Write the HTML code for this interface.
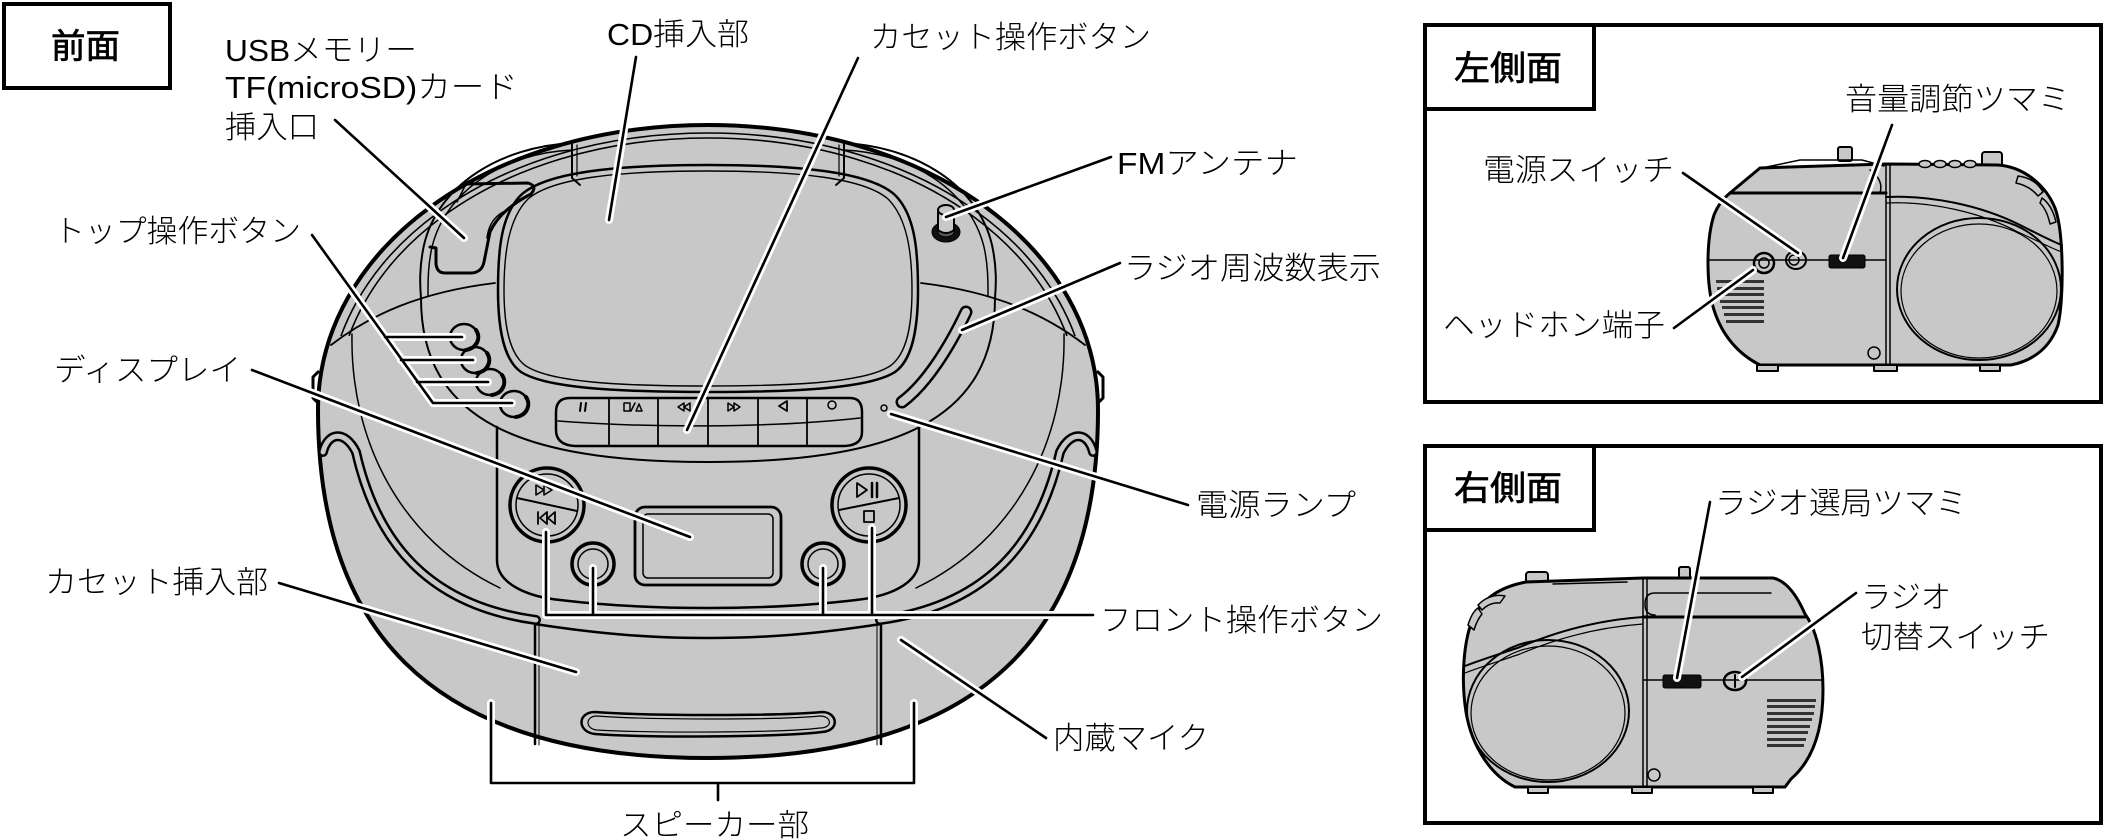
<!DOCTYPE html>
<html><head><meta charset="utf-8"><style>
html,body{margin:0;padding:0;background:#fff;}
svg{display:block;}
text{font-family:"Liberation Sans","Noto Sans CJK JP",sans-serif;font-size:31px;font-weight:300;fill:#000;}
.h{font-size:34px;font-weight:400;stroke:#000;stroke-width:0.7px;}
</style></head><body>
<svg xmlns="http://www.w3.org/2000/svg" width="2105" height="840" viewBox="0 0 2105 840">
<defs>
<clipPath id="ct"><rect x="0" y="0" width="2105" height="336"/></clipPath>
</defs>
<rect width="2105" height="840" fill="#fff"/>

<!-- label boxes -->
<rect x="4" y="4" width="166" height="84" fill="none" stroke="#000" stroke-width="4"/>
<rect x="1425" y="25" width="676" height="377" fill="none" stroke="#000" stroke-width="4"/>
<rect x="1425" y="25" width="169" height="84" fill="none" stroke="#000" stroke-width="4"/>
<rect x="1425" y="446" width="676" height="377" fill="none" stroke="#000" stroke-width="4"/>
<rect x="1425" y="446" width="169" height="84" fill="none" stroke="#000" stroke-width="4"/>

<!-- ========== FRONT VIEW ========== -->
<g fill="none" stroke="#000" stroke-linecap="round" stroke-linejoin="round">
<path d="M708,125 C930,125 1098,250 1098,410 C1098,620 996,758 708,758 C420,758 318,620 318,410 C318,250 486,125 708,125 Z" fill="#c8c8c8" stroke-width="4"/>
<path d="M318,372 L313,377 L313,398 L318,403" stroke-width="3"/>
<path d="M1098,372 L1103,377 L1103,398 L1098,403" stroke-width="3"/>
<g clip-path="url(#ct)">
<path d="M328,410 C328,255 492,133 708,133 C924,133 1088,255 1088,410" stroke-width="1.6"/>
<path d="M336,410 C336,257 496,138 708,138 C920,138 1080,257 1080,410" stroke-width="1.6"/>
</g>
<!-- transition lines -->
<path d="M331,345 C370,315 420,292 495,283" stroke-width="1.8"/>
<path d="M1085,345 C1046,315 996,292 921,283" stroke-width="1.8"/>
<!-- deck outline -->
<path d="M572,143 C500,147 438,185 424,245 C419,268 420,285 421,298 C421,420 520,462 708,462 C896,462 995,420 995,298 C996,285 997,268 992,245 C978,185 916,147 844,143" stroke-width="2"/>
<path d="M572,150 C505,153 446,190 432,247 C428,265 428,280 428,296" stroke-width="1.5"/>
<path d="M844,150 C911,153 970,190 984,247 C988,265 988,280 988,296" stroke-width="1.5"/>
<!-- hinge lines -->
<path d="M572,143 L572,178 L580,185" stroke-width="2"/>
<path d="M577,145 L577,176" stroke-width="1.2"/>
<path d="M844,143 L844,178 L836,185" stroke-width="2"/>
<path d="M839,145 L839,176" stroke-width="1.2"/>
<!-- CD lid -->
<path d="M708,165 C800,165 870,172 895,195 C915,215 918,250 918,290 C918,330 912,360 895,372 C870,388 800,392 708,392 C616,392 546,388 521,372 C504,360 498,330 498,290 C498,250 501,215 521,195 C546,172 616,165 708,165 Z" stroke-width="2.5"/>
<path d="M708,171 C798,171 864,178 888,199 C907,218 912,252 912,290 C912,328 906,355 890,366 C866,382 798,386 708,386 C618,386 550,382 526,366 C510,355 504,328 504,290 C504,252 509,218 528,199 C552,178 618,171 708,171 Z" stroke-width="1.4"/>
<!-- USB recess -->
<path d="M466,184 L528,183 Q538,186 531,194 Q500,210 490,232 L484,262 Q482,272 472,273 L445,273 Q437,273 436,264 L436,248 L430,247" stroke-width="3"/>
<path d="M466,184 L457,202" stroke-width="1.5"/>
<path d="M503,212 Q489,220 487,238" stroke-width="1.5"/>
<!-- antenna -->
<ellipse cx="946" cy="232" rx="14" ry="10" fill="#111" stroke-width="1"/>
<ellipse cx="946" cy="232" rx="8" ry="5" fill="#555" stroke-width="1"/>
<path d="M938,210 L938,230 Q946,236 954,230 L954,210" fill="#c8c8c8" stroke-width="2"/>
<ellipse cx="946" cy="210" rx="8" ry="5" fill="#c8c8c8" stroke-width="2"/>
<!-- freq slot -->
<path d="M966,312 C948,350 925,385 902,402" stroke-width="13"/>
<path d="M966,312 C948,350 925,385 902,402" stroke="#c8c8c8" stroke-width="8"/>
<!-- face boundary thin lines -->
<path d="M352,334 C350,440 400,540 500,588" stroke-width="1.5"/>
<path d="M1064,334 C1066,440 1016,540 916,588" stroke-width="1.5"/>
<!-- speaker grooves -->
<path d="M323,452 C328,432 345,430 356,452 C376,540 426,605 536,620" stroke-width="10"/>
<path d="M323,452 C328,432 345,430 356,452 C376,540 426,605 536,620" stroke="#c8c8c8" stroke-width="5"/>
<path d="M1093,452 C1088,432 1071,430 1060,452 C1040,540 990,605 880,620" stroke-width="10"/>
<path d="M1093,452 C1088,432 1071,430 1060,452 C1040,540 990,605 880,620" stroke="#c8c8c8" stroke-width="5"/>
<!-- top buttons -->
<g stroke-width="2.5" fill="#c8c8c8">
<ellipse cx="464" cy="337" rx="14" ry="13"/>
<ellipse cx="475" cy="360" rx="14" ry="13"/>
<ellipse cx="490" cy="382" rx="14" ry="13"/>
<ellipse cx="514" cy="404" rx="14" ry="13"/>
</g>
<path d="M476,330 A14,13 0 0 1 466,350" stroke-width="4"/>
<path d="M487,353 A14,13 0 0 1 477,373" stroke-width="4"/>
<path d="M502,375 A14,13 0 0 1 492,395" stroke-width="4"/>
<path d="M526,397 A14,13 0 0 1 516,417" stroke-width="4"/>
<!-- cassette bar -->
<path d="M570,398 L850,398 Q862,398 862,412 L862,432 Q862,445 845,446 L575,446 Q556,445 556,430 L556,412 Q556,398 570,398 Z" fill="#c8c8c8" stroke-width="2.5"/>
<path d="M558,421 C650,428 770,428 860,418" stroke-width="1.5"/>
<path d="M609,399 L609,446 M658,399 L658,446 M708,399 L708,446 M758,399 L758,446 M807,399 L807,446" stroke-width="1.8"/>
<path d="M581,403 L580,411 M586,403 L585,411" stroke-width="2"/>
<rect x="624" y="403" width="6" height="8" stroke-width="1.5"/>
<path d="M631,411 L635,403 M636,411 L639,404 L642,411 Z" stroke-width="1.5"/>
<path d="M684,403 L678,407 L684,411 Z M690,403 L684,407 L690,411 Z" stroke-width="1.5"/>
<path d="M728,403 L734,407 L728,411 Z M734,403 L740,407 L734,411 Z" stroke-width="1.5"/>
<path d="M787,401 L779,406 L787,411 Z" stroke-width="1.8"/>
<circle cx="832" cy="405" r="4" stroke-width="1.5"/>
<!-- power lamp -->
<circle cx="884" cy="408" r="3" stroke-width="1.5"/>
<!-- front panel -->
<path d="M497,427 L497,560 C497,585 530,597 560,600 C610,606 660,608 708,608 C756,608 806,606 856,600 C886,597 919,585 919,560 L919,427" stroke-width="2.5"/>
<!-- door -->
<path d="M535,624 C600,634 650,638 708,638 C766,638 816,634 881,624" stroke-width="2.5"/>
<path d="M535,624 L535,744 M881,624 L881,744" stroke-width="2.5"/>
<path d="M539,626 L539,745 M877,626 L877,745" stroke-width="1"/>
<path d="M595,712 C650,716 780,716 822,712 C838,712 840,731 822,732 C780,737 650,738 595,734 C577,732 577,712 595,712 Z" stroke-width="2.5"/>
<path d="M597,716 C650,720 780,720 820,716 C832,716 833,728 820,728 C780,733 650,733 597,730 C585,729 585,716 597,716 Z" stroke-width="1.2"/>
<!-- jog left -->
<circle cx="547" cy="505" r="37" fill="#c8c8c8" stroke-width="3.5"/>
<circle cx="547" cy="505" r="31" stroke-width="1.5"/>
<path d="M517,498 L577,511" stroke-width="2"/>
<path d="M536,485 L544,490 L536,495 Z M544,485 L552,490 L544,495 Z" stroke-width="1.6"/>
<path d="M538,512 L538,524 M547,512 L540,518 L547,524 Z M555,512 L548,518 L555,524 Z" stroke-width="1.8"/>
<!-- play button -->
<circle cx="869" cy="505" r="37" fill="#c8c8c8" stroke-width="3.5"/>
<circle cx="869" cy="505" r="31" stroke-width="1.5"/>
<path d="M839,510 L899,498" stroke-width="2"/>
<path d="M857,483 L867,490 L857,497 Z" stroke-width="1.8"/>
<path d="M872,483 L872,497 M877,483 L877,497" stroke-width="2.5"/>
<rect x="864" y="511" width="10" height="11" stroke-width="1.8"/>
<!-- small round buttons -->
<circle cx="593" cy="564" r="21" fill="#c8c8c8" stroke-width="3.5"/>
<circle cx="593" cy="564" r="15" stroke-width="1.5"/>
<circle cx="823" cy="564" r="21" fill="#c8c8c8" stroke-width="3.5"/>
<circle cx="823" cy="564" r="15" stroke-width="1.5"/>
<!-- display -->
<rect x="635" y="507" width="146" height="78" rx="10" fill="#c8c8c8" stroke-width="2.8"/>
<rect x="643" y="514" width="130" height="64" rx="5" stroke-width="1.5"/>
</g>

<!-- front leader lines -->
<g fill="none" stroke-linecap="round" stroke-linejoin="round">
<g stroke="#fff" stroke-width="8">
<path d="M335,120 L464,238"/>
<path d="M636,57 L609,220"/>
<path d="M858,58 L687,430"/>
<path d="M1111,157 L946,217"/>
<path d="M1120,263 L962,330"/>
<path d="M312,235 L433,403 L512,403 M385,337 L462,337 M401,360 L473,360 M417,382 L488,382"/>
<path d="M252,370 L690,537"/>
<path d="M279,583 L576,672"/>
<path d="M891,414 L1188,505"/>
<path d="M546,532 L546,615 L1093,615 M593,568 L593,615 M823,568 L823,615 M872,528 L872,615"/>
<path d="M901,640 L1046,738"/>
<path d="M491,703 L491,783 L914,783 L914,703 M718,783 L718,800"/>
</g>
<g stroke="#000" stroke-width="2.6">
<path d="M335,120 L464,238"/>
<path d="M636,57 L609,220"/>
<path d="M858,58 L687,430"/>
<path d="M1111,157 L946,217"/>
<path d="M1120,263 L962,330"/>
<path d="M312,235 L433,403 L512,403 M385,337 L462,337 M401,360 L473,360 M417,382 L488,382"/>
<path d="M252,370 L690,537"/>
<path d="M279,583 L576,672"/>
<path d="M891,414 L1188,505"/>
<path d="M546,532 L546,615 L1093,615 M593,568 L593,615 M823,568 L823,615 M872,528 L872,615"/>
<path d="M901,640 L1046,738"/>
<path d="M491,703 L491,783 L914,783 L914,703 M718,783 L718,800"/>
</g>
</g>

<!-- ========== LEFT SIDE VIEW ========== -->
<g fill="none" stroke="#000" stroke-linecap="round" stroke-linejoin="round">
<rect x="1838" y="147" width="14" height="14" rx="2" fill="#c8c8c8" stroke-width="2"/>
<rect x="1982" y="152" width="20" height="16" rx="3" fill="#c8c8c8" stroke-width="2"/>
<path d="M1730,193 L1760,168 L1886,164 L1998,165 C2025,167 2046,186 2055,208 C2064,232 2064,300 2058,325 C2051,345 2036,360 2011,365 L1760,365 C1738,354 1722,335 1714,310 C1706,285 1706,240 1714,215 C1718,205 1723,199 1730,193 Z" fill="#c8c8c8" stroke-width="3"/>
<path d="M1730,193 L1886,193" stroke-width="3"/>
<path d="M1762,168 L1800,160 L1862,160 L1884,166" stroke-width="1.5"/>
<path d="M1886,164 L1886,365 M1890,165 L1890,365" stroke-width="1.5"/>
<path d="M1870,170 Q1884,180 1880,193" stroke-width="1.5"/>
<path d="M1710,260 L1886,260" stroke-width="1.5"/>
<path d="M1886,197 C1930,195 1980,205 2020,225 C2040,235 2055,243 2062,245" stroke-width="2"/>
<path d="M1886,203 C1930,201 1980,212 2018,232 C2040,242 2055,250 2062,252" stroke-width="1.2"/>
<ellipse cx="1979" cy="289" rx="82" ry="71" stroke-width="2"/>
<ellipse cx="1979" cy="291" rx="78" ry="67" stroke-width="1.2"/>
<path d="M2018,176 Q2035,178 2043,192 L2038,196 Q2030,186 2016,183 Z" fill="#c8c8c8" stroke-width="1.5"/>
<path d="M2042,198 Q2052,205 2056,222 L2050,224 Q2047,210 2040,203 Z" fill="#c8c8c8" stroke-width="1.5"/>
<g stroke-width="1.5" fill="#c8c8c8">
<ellipse cx="1925" cy="164" rx="6" ry="3.5"/><ellipse cx="1940" cy="164" rx="6" ry="3.5"/>
<ellipse cx="1955" cy="164" rx="6" ry="3.5"/><ellipse cx="1970" cy="164" rx="6" ry="3.5"/>
</g>
<circle cx="1764" cy="263" r="10" stroke-width="2.5"/>
<circle cx="1764" cy="263" r="5" stroke-width="1.5"/>
<ellipse cx="1796" cy="260" rx="10" ry="9" stroke-width="2"/>
<circle cx="1794" cy="260" r="5" stroke-width="1.5"/>
<rect x="1829" y="255" width="36" height="13" rx="2" fill="#111" stroke-width="1"/>
<circle cx="1874" cy="353" r="6" stroke-width="1.5"/>
<g fill="#c8c8c8" stroke-width="2">
<rect x="1757" y="365" width="21" height="6"/><rect x="1874" y="365" width="23" height="6"/><rect x="1980" y="365" width="20" height="6"/>
</g>
</g>
<g fill="#333">
<rect x="1716" y="280" width="48" height="3"/><rect x="1717" y="287" width="47" height="3"/>
<rect x="1718" y="293" width="46" height="3"/><rect x="1720" y="300" width="44" height="3"/>
<rect x="1722" y="306" width="42" height="3"/><rect x="1724" y="313" width="40" height="3"/>
<rect x="1726" y="320" width="38" height="3"/>
</g>

<!-- ========== RIGHT SIDE VIEW ========== -->
<g fill="none" stroke="#000" stroke-linecap="round" stroke-linejoin="round">
<rect x="1679" y="567" width="11" height="16" rx="2" fill="#c8c8c8" stroke-width="2"/>
<rect x="1526" y="572" width="22" height="15" rx="3" fill="#c8c8c8" stroke-width="2"/>
<path d="M1526,582 L1643,578 L1773,578 C1788,581 1798,598 1805,614 C1817,630 1823,660 1823,690 C1823,730 1813,760 1791,779 L1785,787 L1515,787 C1492,776 1472,748 1466,712 C1461,680 1463,640 1474,616 C1484,598 1500,587 1526,582 Z" fill="#c8c8c8" stroke-width="3"/>
<path d="M1553,584 L1627,582" stroke-width="1.5"/>
<path d="M1643,578 L1643,787 M1647,579 L1647,787" stroke-width="1.5"/>
<path d="M1655,593 L1771,593 M1655,593 Q1645,593 1645,604 Q1645,615 1655,615" stroke-width="1.5"/>
<path d="M1643,617 L1805,617" stroke-width="3"/>
<path d="M1643,680 L1823,680" stroke-width="1.5"/>
<path d="M1465,666 C1480,660 1500,654 1520,647 C1560,630 1600,620 1643,617" stroke-width="2"/>
<path d="M1465,673 C1480,667 1500,661 1520,654 C1560,637 1600,627 1643,624" stroke-width="1.2"/>
<ellipse cx="1548" cy="711" rx="81" ry="71" stroke-width="2"/>
<ellipse cx="1548" cy="713" rx="77" ry="67" stroke-width="1.2"/>
<path d="M1478,605 Q1490,593 1505,596 L1500,603 Q1490,602 1482,610 Z" fill="#c8c8c8" stroke-width="1.5"/>
<path d="M1468,625 Q1472,612 1478,608 L1482,614 Q1477,620 1474,630 Z" fill="#c8c8c8" stroke-width="1.5"/>
<rect x="1663" y="675" width="38" height="13" rx="2" fill="#111" stroke-width="1"/>
<ellipse cx="1735" cy="681" rx="11" ry="9" stroke-width="2.5"/>
<path d="M1735,675 L1735,687" stroke-width="2"/>
<circle cx="1654" cy="775" r="6" stroke-width="1.5"/>
<g fill="#c8c8c8" stroke-width="2">
<rect x="1528" y="787" width="20" height="6"/><rect x="1632" y="787" width="20" height="6"/><rect x="1753" y="787" width="20" height="6"/>
</g>
</g>
<g fill="#333">
<rect x="1767" y="699" width="49" height="3"/><rect x="1767" y="705" width="48" height="3"/>
<rect x="1767" y="712" width="47" height="3"/><rect x="1767" y="718" width="45" height="3"/>
<rect x="1767" y="725" width="43" height="3"/><rect x="1767" y="731" width="41" height="3"/>
<rect x="1767" y="738" width="39" height="3"/><rect x="1767" y="744" width="37" height="3"/>
</g>

<!-- side leader lines -->
<g fill="none" stroke-linecap="round">
<g stroke="#fff" stroke-width="8">
<path d="M1683,173 L1798,253"/><path d="M1892,125 L1843,258"/><path d="M1674,328 L1753,270"/>
<path d="M1710,502 L1677,678"/><path d="M1856,593 L1742,677"/>
</g>
<g stroke="#000" stroke-width="2.6">
<path d="M1683,173 L1798,253"/><path d="M1892,125 L1843,258"/><path d="M1674,328 L1753,270"/>
<path d="M1710,502 L1677,678"/><path d="M1856,593 L1742,677"/>
</g>
</g>

<!-- ========== TEXT ========== -->
<text class="h" x="51" y="58" textLength="69" lengthAdjust="spacingAndGlyphs">前面</text>
<text class="h" x="1454" y="80" textLength="108" lengthAdjust="spacingAndGlyphs">左側面</text>
<text class="h" x="1454" y="500" textLength="108" lengthAdjust="spacingAndGlyphs">右側面</text>

<text x="225" y="61" textLength="192" lengthAdjust="spacingAndGlyphs">USBメモリー</text>
<text x="225" y="98" textLength="293" lengthAdjust="spacingAndGlyphs">TF(microSD)カード</text>
<text x="225" y="138" textLength="94" lengthAdjust="spacingAndGlyphs">挿入口</text>
<text x="607" y="45" textLength="142" lengthAdjust="spacingAndGlyphs">CD挿入部</text>
<text x="870" y="48" textLength="281" lengthAdjust="spacingAndGlyphs">カセット操作ボタン</text>
<text x="1117" y="174" textLength="181" lengthAdjust="spacingAndGlyphs">FMアンテナ</text>
<text x="1124" y="279" textLength="257" lengthAdjust="spacingAndGlyphs">ラジオ周波数表示</text>
<text x="54" y="242" textLength="247" lengthAdjust="spacingAndGlyphs">トップ操作ボタン</text>
<text x="54" y="381" textLength="187" lengthAdjust="spacingAndGlyphs">ディスプレイ</text>
<text x="45" y="593" textLength="223" lengthAdjust="spacingAndGlyphs">カセット挿入部</text>
<text x="1196" y="516" textLength="160" lengthAdjust="spacingAndGlyphs">電源ランプ</text>
<text x="1100" y="631" textLength="283" lengthAdjust="spacingAndGlyphs">フロント操作ボタン</text>
<text x="1053" y="749" textLength="156" lengthAdjust="spacingAndGlyphs">内蔵マイク</text>
<text x="620" y="836" textLength="189" lengthAdjust="spacingAndGlyphs">スピーカー部</text>

<text x="1845" y="110" textLength="225" lengthAdjust="spacingAndGlyphs">音量調節ツマミ</text>
<text x="1483" y="181" textLength="191" lengthAdjust="spacingAndGlyphs">電源スイッチ</text>
<text x="1443" y="336" textLength="222" lengthAdjust="spacingAndGlyphs">ヘッドホン端子</text>
<text x="1715" y="514" textLength="252" lengthAdjust="spacingAndGlyphs">ラジオ選局ツマミ</text>
<text x="1861" y="608" textLength="90" lengthAdjust="spacingAndGlyphs">ラジオ</text>
<text x="1861" y="648" textLength="189" lengthAdjust="spacingAndGlyphs">切替スイッチ</text>
</svg>
</body></html>
